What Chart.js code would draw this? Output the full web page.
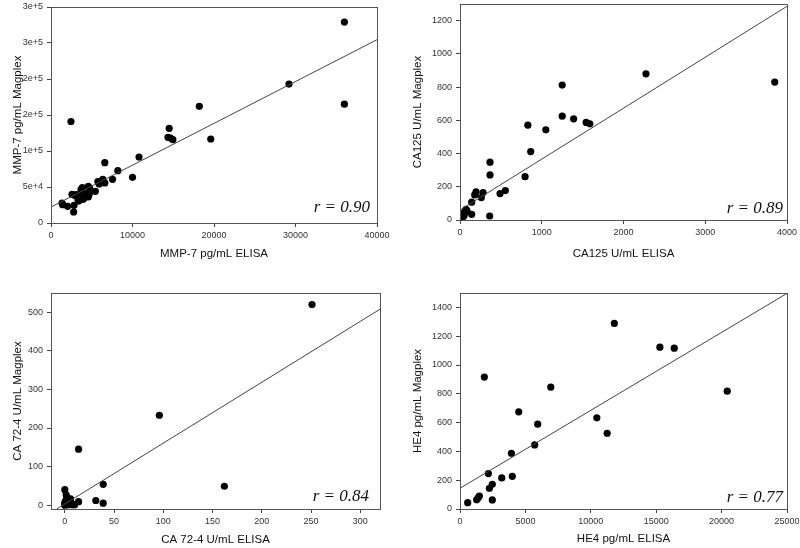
<!DOCTYPE html>
<html>
<head>
<meta charset="utf-8">
<script src="https://cdn.jsdelivr.net/npm/chart.js@4/dist/chart.umd.min.js"></script>
<style>
html,body{margin:0;padding:0;background:#fff;}
#wrap{position:relative;width:800px;height:548px;}
canvas{position:absolute;}
</style>
</head>
<body>
<div id="wrap">
<canvas id="c1" width="400" height="274" style="left:0;top:0"></canvas>
<canvas id="c2" width="400" height="274" style="left:400px;top:0"></canvas>
<canvas id="c3" width="400" height="274" style="left:0;top:274px"></canvas>
<canvas id="c4" width="400" height="274" style="left:400px;top:274px"></canvas>
</div>
<script>
// ---- Panel 1: MMP-7 ----
const mmpElisa   = [36000,29200,36000,18200,2450,14500,14350,14650,14950,19600,10800,6600,8200,10000,7550,6350,6600,5750,5900,5440,4580,4740,3840,3680,4700,4290,2580,3100,3760,3310,3930,1350,1430,2040,2820,2780,3500,4000,3600,4100,3400,3800,4580,2900,4580];
const mmpMagplex = [279000,193000,165000,162000,141000,131500,119000,118000,115700,116700,91700,83800,72700,63400,60700,60500,55600,57500,54200,44000,51000,48600,49200,46400,40300,40800,39900,39400,36100,32500,32900,27800,25500,23200,24600,15300,38000,37000,34000,35000,30500,42000,36100,38500,39400];
const mmpFitX = [0, 40000];
const mmpFitY = [22200, 254600];
const mmpXTicks = [0,10000,20000,30000,40000];
const mmpYTicks = [0,50000,100000,150000,200000,250000,300000];
const mmpYLabels = ["0","5e+4","1e+5","2e+5","2e+5","3e+5","3e+5"];
const mmpR = "r = 0.90";

// ---- Panel 2: CA125 ----
const caElisa   = [1250,2275,3850,1250,1390,1543,1588,830,1050,865,367,367,796,555,490,282,196,180,261,143,143,363,73,86,60,40,20,10,5,30,50,15,0,25,70];
const caMagplex = [812,880,830,625,609,587,579,571,543,412,348,271,261,177,159,165,169,151,135,107,34,24,64,56,45,35,30,20,10,15,25,5,25,40,50];
const caFitX = [0, 4000];
const caFitY = [60, 1286];
const caXTicks = [0,1000,2000,3000,4000];
const caYTicks = [0,200,400,600,800,1000,1200];
const caR = "r = 0.89";

// ---- Panel 3: CA 72-4 ----
const c72Elisa   = [251,96,14,162,39,39,31.5,14,0,1.4,5.8,0,0.5,1,2,3,4,5,6,7,8,9,2,1,0,10,3];
const c72Magplex = [520,233,145,49,54,5,12,9,40,27,16,5,10,2,15,5,1,3,8,2,1,2,20,8,0,1,12];
const c72FitX = [-8.2, 320];
const c72FitY = [-10, 508];
const c72XTicks = [0,50,100,150,200,250,300];
const c72YTicks = [0,100,200,300,400,500];
const c72R = "r = 0.84";

// ---- Panel 4: HE4 ----
const he4Elisa   = [11800,15280,16380,1860,6940,20430,4490,10460,5940,11250,5710,3930,2170,4000,3190,2470,2245,2470,1479,1403,1275,588];
const he4Magplex = [1289,1124,1117,916,846,818,675,633,589,526,445,387,246,227,216,172,144,63,90,79,65,44];
const he4FitX = [0, 25000];
const he4FitY = [144, 1497];
const he4XTicks = [0,5000,10000,15000,20000,25000];
const he4YTicks = [0,200,400,600,800,1000,1200,1400];
const he4R = "r = 0.77";

const framePlugin = {
  id: 'frame',
  afterDatasetsDraw(chart, args, opts) {
    const {ctx, chartArea: a} = chart;
    ctx.save();
    ctx.strokeStyle = '#555';
    ctx.lineWidth = 1;
    ctx.strokeRect(Math.round(a.left) + 0.5, Math.round(a.top) + 0.5,
                   Math.round(a.right - a.left), Math.round(a.bottom - a.top));
    ctx.font = 'italic 17px "Liberation Serif", "Times New Roman", serif';
    ctx.textAlign = 'right';
    ctx.textBaseline = 'alphabetic';
    ctx.fillStyle = '#111';
    ctx.fillText(opts.label, a.right - opts.dx, a.bottom - opts.dy);
    ctx.restore();
  }
};

const TICKFONT = {family: '"Liberation Sans", Arial, sans-serif', size: 9};
const TITLEFONT = {family: '"Liberation Sans", Arial, sans-serif', size: 11.5};

function makePanel(id, p) {
  const pts = p.xs.map((x, i) => ({x: x, y: p.ys[i]}));
  const fit = p.fx.map((x, i) => ({x: x, y: p.fy[i]}));
  new Chart(document.getElementById(id), {
    type: 'scatter',
    data: {
      datasets: [
        {type: 'line', data: fit, borderColor: '#444', borderWidth: 1, pointRadius: 0, fill: false, tension: 0},
        {data: pts, backgroundColor: '#000', borderColor: '#000', pointRadius: 3.6, pointBorderWidth: 0}
      ]
    },
    plugins: [framePlugin],
    options: {
      responsive: false,
      animation: false,
      events: [],
      layout: {padding: {left: 0, right: p.padRight, top: p.padTop, bottom: 0}},
      plugins: {
        legend: {display: false},
        tooltip: {enabled: false},
        frame: {label: p.r, dx: p.rdx, dy: p.rdy}
      },
      scales: {
        x: {
          type: 'linear', min: p.xmin, max: p.xmax,
          afterBuildTicks: s => { s.ticks = p.xt.map(v => ({value: v})); },
          afterFit: s => { s.height = p.xH; s.paddingLeft = 0; s.paddingRight = 0; },
          grid: {display: true, drawOnChartArea: false, drawTicks: true, tickLength: 4, color: '#444'},
          border: {display: false},
          ticks: {font: TICKFONT, color: '#333', padding: 3, maxRotation: 0, autoSkip: false,
                  callback: v => String(v)},
          title: {display: true, text: p.xtitle, font: TITLEFONT, color: '#111', padding: {top: 0, bottom: p.xtPad}}
        },
        y: {
          type: 'linear', min: p.ymin, max: p.ymax,
          afterBuildTicks: s => { s.ticks = p.yt.map(v => ({value: v})); },
          afterFit: s => { s.width = p.yW; s.paddingTop = 0; s.paddingBottom = 0; },
          grid: {display: true, drawOnChartArea: false, drawTicks: true, tickLength: 4, color: '#444'},
          border: {display: false},
          ticks: {font: TICKFONT, color: '#333', padding: 4, autoSkip: false,
                  callback: (v, i) => p.ylabels ? p.ylabels[i] : String(v)},
          title: {display: true, text: p.ytitle, font: TITLEFONT, color: '#111', padding: {top: p.ytPad, bottom: 0}}
        }
      }
    }
  });
}

makePanel('c1', {xs: mmpElisa, ys: mmpMagplex, fx: mmpFitX, fy: mmpFitY,
  xmin: 0, xmax: 40000, ymin: 0, ymax: 300000, xt: mmpXTicks, yt: mmpYTicks, ylabels: mmpYLabels,
  xtitle: 'MMP-7 pg/mL ELISA', ytitle: 'MMP-7 pg/mL Magplex', r: mmpR, rdx: 7, rdy: 11,
  padRight: 23, padTop: 7, xH: 51, yW: 51, xtPad: 13, ytPad: 11});

makePanel('c2', {xs: caElisa, ys: caMagplex, fx: caFitX, fy: caFitY,
  xmin: 0, xmax: 4000, ymin: 0, ymax: 1300, xt: caXTicks, yt: caYTicks,
  xtitle: 'CA125 U/mL ELISA', ytitle: 'CA125 U/mL Magplex', r: caR, rdx: 4, rdy: 7,
  padRight: 13, padTop: 4, xH: 54, yW: 60, xtPad: 13, ytPad: 11});

makePanel('c3', {xs: c72Elisa, ys: c72Magplex, fx: c72FitX, fy: c72FitY,
  xmin: -14, xmax: 320, ymin: -10, ymax: 550, xt: c72XTicks, yt: c72YTicks,
  xtitle: 'CA 72-4 U/mL ELISA', ytitle: 'CA 72-4 U/mL Magplex', r: c72R, rdx: 11, rdy: 8,
  padRight: 20, padTop: 19, xH: 39, yW: 51, xtPad: 1, ytPad: 11});

makePanel('c4', {xs: he4Elisa, ys: he4Magplex, fx: he4FitX, fy: he4FitY,
  xmin: 0, xmax: 25000, ymin: 0, ymax: 1500, xt: he4XTicks, yt: he4YTicks,
  xtitle: 'HE4 pg/mL ELISA', ytitle: 'HE4 pg/mL Magplex', r: he4R, rdx: 4, rdy: 7,
  padRight: 13, padTop: 19, xH: 39, yW: 60, xtPad: 2, ytPad: 11});
</script>
</body>
</html>
